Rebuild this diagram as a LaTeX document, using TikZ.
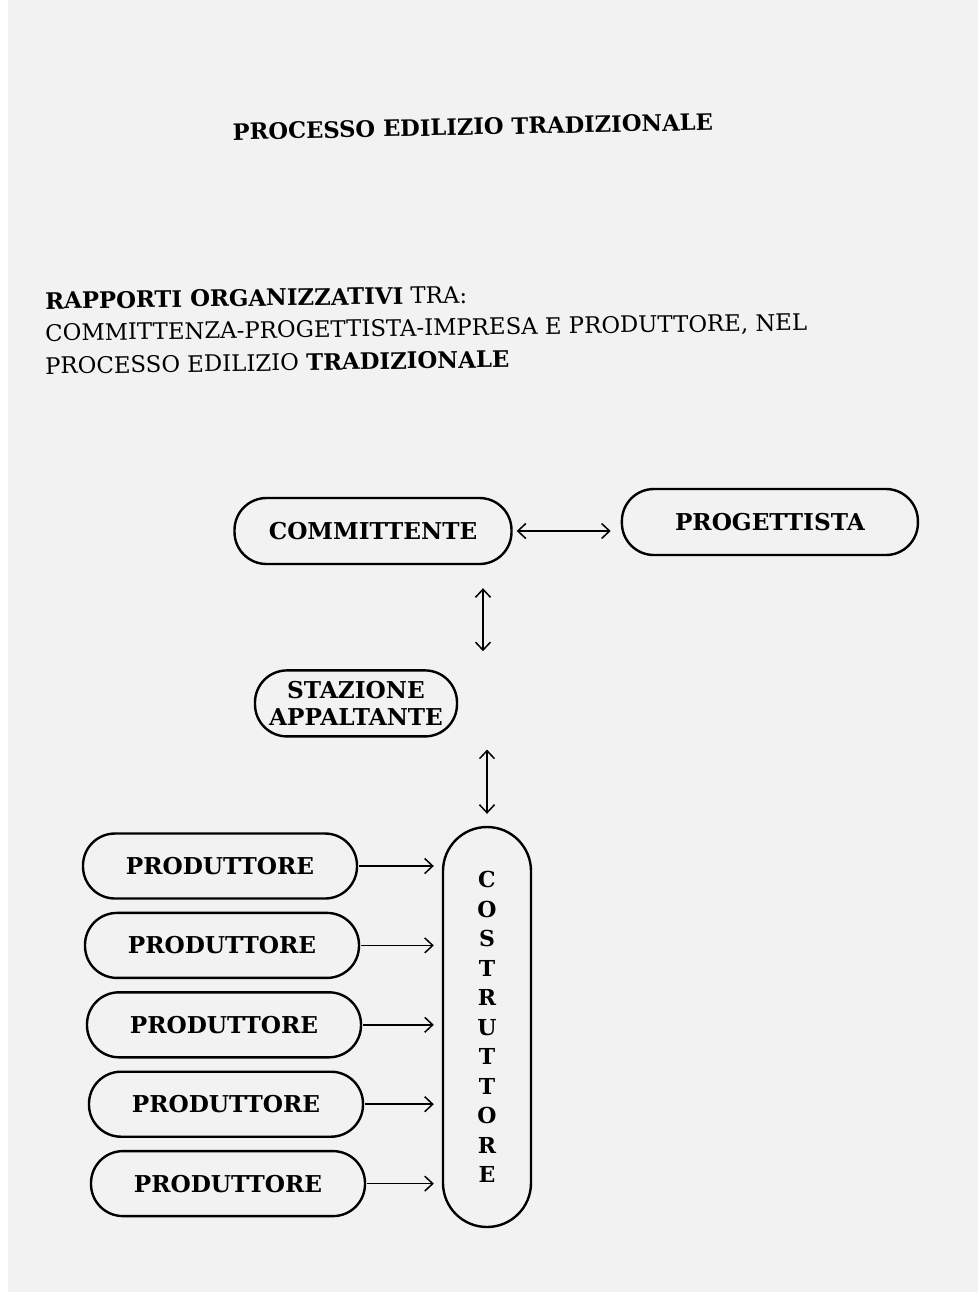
\documentclass[tikz,border=0pt]{standalone}
\usepackage{fontspec}
\setmainfont{DejaVu Serif}
\newfontfamily\boxfont{DejaVu Serif}
\usetikzlibrary{positioning,calc,arrows.meta}

\begin{document}
\begin{tikzpicture}[
    x=0.5pt, y=-0.5pt,
    node distance=6pt and 54pt,
    pill/.style={draw, line width=1.2pt, rounded corners=16pt, minimum height=33pt, inner sep=2pt, align=center, font=\boxfont\bfseries\fontsize{11.6}{13.5}\selectfont},
    producer/.style={pill, minimum width=137pt, minimum height=32.5pt},
    heading/.style={anchor=base west, inner sep=0pt, rotate=0.8, font=\boxfont\fontsize{11.4}{13}\selectfont},
    arrow/.style={-{Straight Barb[length=4pt,width=7.5pt]}, line width=0.75pt},
    biarrow/.style={{Straight Barb[length=4pt,width=7.5pt]}-{Straight Barb[length=4pt,width=7.5pt]}, line width=0.75pt}
]

% ============ FOGLIO ============
\useasboundingbox (0,0) rectangle (978,1298);
\fill[white] (0,0) rectangle (978,1298);
\fill[black!5] (8,0) rectangle (978,1292);

% ============ TITOLI ============
\node[anchor=base, inner sep=0pt, rotate=1.2, font=\boxfont\bfseries\fontsize{11.3}{13}\selectfont] (title) at (473,135) {PROCESSO EDILIZIO TRADIZIONALE};

\node[heading] (rapporti) at (45,309) {\textbf{RAPPORTI ORGANIZZATIVI} TRA:};
\node[heading] (soggetti) at (45,341) {COMMITTENZA-PROGETTISTA-IMPRESA E PRODUTTORE, NEL};
\node[heading] (processo) at (45,374) {PROCESSO EDILIZIO \textbf{TRADIZIONALE}};

% ============ COMMITTENZA ============
\node[pill, minimum width=138.5pt] (committente) at (373,531) {COMMITTENTE};
\node[pill, minimum width=148pt, right=54pt of committente, yshift=4.5pt] (progettista) {PROGETTISTA};
\node[pill, minimum width=101pt, below=52pt of committente, xshift=-8.5pt] (stazione) {STAZIONE\\APPALTANTE};

% ============ COSTRUTTORE ============
\node[draw, line width=1.2pt, rounded corners=22pt, minimum width=44pt, minimum height=200pt, inner sep=0pt, align=center,
      font=\boxfont\bfseries\fontsize{11}{14.75}\selectfont] (costruttore) at (487,1027)
      {C\\O\\S\\T\\R\\U\\T\\T\\O\\R\\E};

% ============ PRODUTTORI ============
\node[producer] (prod1) at (220,866) {PRODUTTORE};
\node[producer, below=6pt of prod1, xshift=1pt] (prod2) {PRODUTTORE};
\node[producer, below=6pt of prod2, xshift=1pt] (prod3) {PRODUTTORE};
\node[producer, below=6pt of prod3, xshift=1pt] (prod4) {PRODUTTORE};
\node[producer, below=6pt of prod4, xshift=1pt] (prod5) {PRODUTTORE};

% ============ CONNESSIONI ============
% Committente <-> Progettista
\draw[biarrow, shorten <=2pt, shorten >=5pt] (committente.east) -- (committente.east -| progettista.west);

% Committente <-> Stazione appaltante <-> Costruttore
\draw[biarrow, shorten <=11.5pt, shorten >=9pt] ([xshift=-2pt]committente.south -| costruttore.north) -- ([xshift=-2pt]stazione.north -| costruttore.north);
\draw[biarrow, shorten <=6pt, shorten >=6pt] (stazione.south -| costruttore.north) -- (costruttore.north);

% Produttori -> Costruttore
\draw[arrow, shorten <=0.5pt, shorten >=4pt] (prod1.east) -- (prod1.east -| costruttore.west);
\draw[arrow, shorten <=0.5pt, shorten >=4pt] (prod2.east) -- (prod2.east -| costruttore.west);
\draw[arrow, shorten <=0.5pt, shorten >=4pt] (prod3.east) -- (prod3.east -| costruttore.west);
\draw[arrow, shorten <=0.5pt, shorten >=4pt] (prod4.east) -- (prod4.east -| costruttore.west);
\draw[arrow, shorten <=0.5pt, shorten >=4pt] (prod5.east) -- (prod5.east -| costruttore.west);

\end{tikzpicture}
\end{document}
